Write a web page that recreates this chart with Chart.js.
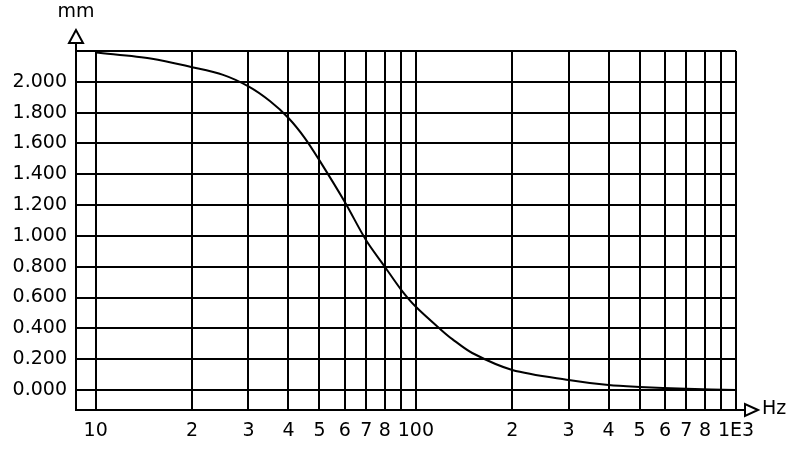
<!DOCTYPE html>
<html>
<head>
<meta charset="utf-8">
<title>mm vs Hz</title>
<script src="https://cdn.jsdelivr.net/npm/chart.js@4/dist/chart.umd.min.js"></script>
<style>
  html, body { margin: 0; padding: 0; background: #fff; }
  #wrap { width: 800px; height: 458px; }
</style>
</head>
<body>
<div id="wrap"><canvas id="curveChart"></canvas></div>
<script>
// data
const freqHz = [10, 15, 20, 25, 30, 35, 40, 45, 50, 60, 70, 80, 90, 100, 120, 130, 150, 200, 300, 400, 500, 700, 1000];
const dispMm = [2.19, 2.15, 2.095, 2.045, 1.97, 1.875, 1.765, 1.635, 1.49, 1.22, 0.97, 0.80, 0.65, 0.54, 0.39, 0.33, 0.24, 0.13, 0.065, 0.032, 0.02, 0.008, 0.0];

const xTickValues = [10, 20, 30, 40, 50, 60, 70, 80, 90, 100, 200, 300, 400, 500, 600, 700, 800, 900, 1000];
const xTickLabels = ["10", "2", "3", "4", "5", "6", "7", "8", "", "100", "2", "3", "4", "5", "6", "7", "8", "", "1E3"];
const yTickValues = [0, 0.2, 0.4, 0.6, 0.8, 1.0, 1.2, 1.4, 1.6, 1.8, 2.0, 2.2];
const yTickLabels = ["0.000", "0.200", "0.400", "0.600", "0.800", "1.000", "1.200", "1.400", "1.600", "1.800", "2.000", ""];

Chart.defaults.font.family = "'DejaVu Sans', sans-serif";
Chart.defaults.font.size = 19;
Chart.defaults.color = "#000";

// arrows on the axes + the unit labels
const axisArrows = {
  id: "axisArrows",
  afterDraw(chart) {
    const { ctx, chartArea: a } = chart;
    ctx.save();
    ctx.strokeStyle = "#000";
    ctx.fillStyle = "#fff";
    ctx.lineWidth = 2;

    // y arrow
    ctx.beginPath();
    ctx.moveTo(a.left, a.top);
    ctx.lineTo(a.left, a.top - 8);
    ctx.stroke();
    ctx.beginPath();
    ctx.moveTo(a.left, a.top - 21);
    ctx.lineTo(a.left - 7, a.top - 8);
    ctx.lineTo(a.left + 7, a.top - 8);
    ctx.closePath();
    ctx.fill();
    ctx.stroke();

    // x arrow
    ctx.beginPath();
    ctx.moveTo(a.right, a.bottom);
    ctx.lineTo(a.right + 9, a.bottom);
    ctx.stroke();
    ctx.beginPath();
    ctx.moveTo(a.right + 22, a.bottom);
    ctx.lineTo(a.right + 9, a.bottom - 6);
    ctx.lineTo(a.right + 9, a.bottom + 6);
    ctx.closePath();
    ctx.fill();
    ctx.stroke();

    ctx.fillStyle = "#000";
    ctx.font = "19px 'DejaVu Sans', sans-serif";
    ctx.textAlign = "center";
    ctx.textBaseline = "alphabetic";
    ctx.fillText("mm", a.left, 17);
    ctx.textAlign = "left";
    ctx.textBaseline = "middle";
    ctx.fillText("Hz", a.right + 26, a.bottom - 1);
    ctx.restore();
  }
};

const ctx = document.getElementById("curveChart");

new Chart(ctx, {
  type: "line",
  data: {
    datasets: [
      {
        data: freqHz.map((f, i) => ({ x: f, y: dispMm[i] })),
        borderColor: "#000",
        borderWidth: 2,
        pointRadius: 0,
        tension: 0.3,
        fill: false,
      },
    ],
  },
  options: {
    responsive: true,
    maintainAspectRatio: false,
    animation: false,
    layout: { padding: { top: 51, right: 64, left: 0, bottom: 0 } },
    plugins: { legend: { display: false }, tooltip: { enabled: false } },
    scales: {
      x: {
        type: "logarithmic",
        min: 8.68,
        max: 1000,
        afterBuildTicks: (s) => { s.ticks = xTickValues.map((v) => ({ value: v })); },
        afterFit: (s) => { s.height = 48; },
        ticks: {
          autoSkip: false,
          maxRotation: 0,
          padding: 10,
          callback: (v, i) => xTickLabels[i],
        },
        grid: { color: "#000", lineWidth: 2, drawTicks: false },
        border: { color: "#000", width: 2 },
      },
      y: {
        min: -0.13,
        max: 2.2,
        afterBuildTicks: (s) => { s.ticks = yTickValues.map((v) => ({ value: v })); },
        afterFit: (s) => { s.width = 76; },
        ticks: {
          padding: 9,
          callback: (v, i) => yTickLabels[i],
        },
        grid: { color: "#000", lineWidth: 2, drawTicks: false },
        border: { color: "#000", width: 2 },
      },
    },
  },
  plugins: [axisArrows],
});
</script>
</body>
</html>
